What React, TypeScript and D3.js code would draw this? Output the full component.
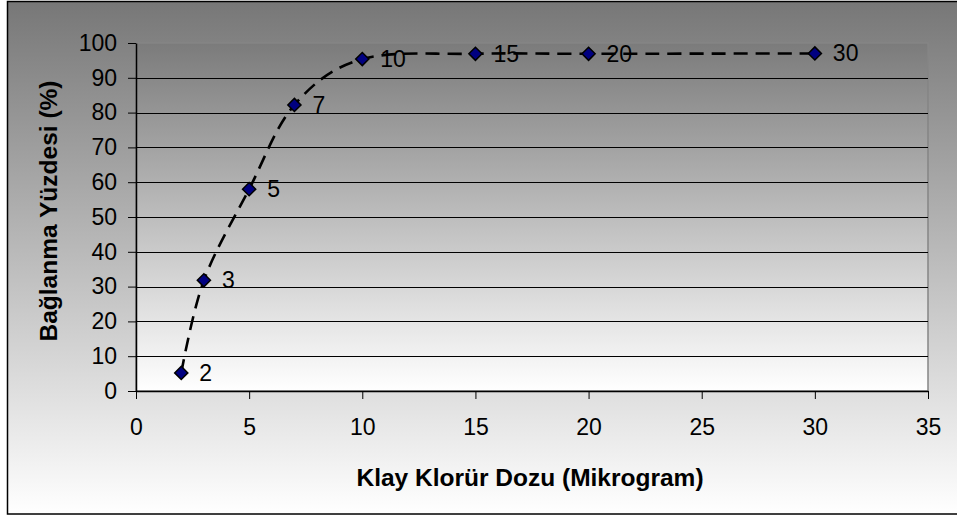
import React, { useEffect, useRef } from 'react';
import * as d3 from 'd3';

const doses = [2, 3, 5, 7, 10, 15, 20, 30];
const binding = [5.2, 31.8, 58, 82.2, 95.4, 96.9, 96.9, 97];
const pointLabels = ['2', '3', '5', '7', '10', '15', '20', '30'];
const xTicks = [0, 5, 10, 15, 20, 25, 30, 35];
const yTicks = [0, 10, 20, 30, 40, 50, 60, 70, 80, 90, 100];

const W = 957;
const H = 517;

export default function App() {
  const svgRef = useRef<SVGSVGElement>(null);

  useEffect(() => {
    if (!svgRef.current) return;
    const svg = d3.select(svgRef.current);
    svg.selectAll('*').remove();

    const font = '"Liberation Sans", Arial, sans-serif';
    const plot = { left: 136, right: 928, top: 43, bottom: 391 };

    const defs = svg.append('defs');
    const outerGrad = defs.append('linearGradient')
      .attr('id', 'outerGrad').attr('x1', 0).attr('y1', 0).attr('x2', 0).attr('y2', 1);
    outerGrad.append('stop').attr('offset', '0%').attr('stop-color', '#777777');
    outerGrad.append('stop').attr('offset', '100%').attr('stop-color', '#ffffff');

    const plotGrad = defs.append('linearGradient')
      .attr('id', 'plotGrad').attr('x1', 0).attr('y1', 0).attr('x2', 0).attr('y2', 1);
    plotGrad.append('stop').attr('offset', '0%').attr('stop-color', '#7b7b7b');
    plotGrad.append('stop').attr('offset', '100%').attr('stop-color', '#ffffff');

    // chart area
    svg.append('rect')
      .attr('x', 7.5).attr('y', 1.5).attr('width', W + 10).attr('height', 512.5)
      .attr('fill', 'url(#outerGrad)').attr('stroke', '#000').attr('stroke-width', 1.5);

    const x = d3.scaleLinear().domain([0, 35]).range([plot.left, plot.right]);
    const y = d3.scaleLinear().domain([0, 100]).range([plot.bottom, plot.top]);

    // plot area
    svg.append('rect')
      .attr('x', plot.left).attr('y', plot.top)
      .attr('width', plot.right - plot.left).attr('height', plot.bottom - plot.top)
      .attr('fill', 'url(#plotGrad)').attr('stroke', '#858585').attr('stroke-width', 1.5);

    // gridlines
    svg.append('g').selectAll('line')
      .data(yTicks.filter(t => t > 0 && t < 100))
      .enter().append('line')
      .attr('x1', plot.left).attr('x2', plot.right)
      .attr('y1', d => Math.round(y(d)) + 0.5).attr('y2', d => Math.round(y(d)) + 0.5)
      .attr('stroke', '#000').attr('stroke-width', 1);

    // y axis
    const yAxis = svg.append('g')
      .attr('transform', `translate(${plot.left},0)`)
      .call(d3.axisLeft(y).tickValues(yTicks).tickSize(8).tickPadding(11).tickSizeOuter(0));
    yAxis.select('.domain').attr('stroke', '#000').attr('stroke-width', 1.5);
    yAxis.selectAll('.tick line').attr('stroke', '#000');
    yAxis.selectAll('.tick text')
      .attr('font-family', font).attr('font-size', 23).attr('fill', '#000');

    // x axis
    const xAxis = svg.append('g')
      .attr('transform', `translate(0,${plot.bottom})`)
      .call(d3.axisBottom(x).tickValues(xTicks).tickSize(8).tickPadding(20).tickSizeOuter(0));
    xAxis.select('.domain').attr('stroke', '#000').attr('stroke-width', 1.5);
    xAxis.selectAll('.tick line').attr('stroke', '#000');
    xAxis.selectAll('.tick text')
      .attr('font-family', font).attr('font-size', 23).attr('fill', '#000');

    const pts: [number, number][] = doses.map((d, i) => [x(d), y(binding[i])]);

    // smoothed dashed line
    const line = d3.line().curve(d3.curveCatmullRom.alpha(0));
    svg.append('path')
      .attr('d', line(pts))
      .attr('fill', 'none').attr('stroke', '#000').attr('stroke-width', 2.6)
      .attr('stroke-dasharray', '14,8');

    // markers
    const symbol = d3.symbol().type(d3.symbolDiamond2).size(110);
    svg.append('g').selectAll('path')
      .data(pts).enter().append('path')
      .attr('d', symbol)
      .attr('transform', d => `translate(${d[0]},${d[1]})`)
      .attr('fill', '#000080').attr('stroke', '#000').attr('stroke-width', 1.5);

    // data labels
    svg.append('g').selectAll('text')
      .data(pts).enter().append('text')
      .attr('x', d => d[0] + 18).attr('y', d => d[1])
      .attr('dy', '0.35em')
      .attr('font-family', font).attr('font-size', 23).attr('fill', '#000')
      .text((d, i) => pointLabels[i]);

    // titles
    svg.append('text')
      .attr('x', 530).attr('y', 486)
      .attr('text-anchor', 'middle')
      .attr('font-family', font).attr('font-weight', 700).attr('font-size', 24.5)
      .text('Klay Klorür Dozu (Mikrogram)');

    svg.append('text')
      .attr('transform', `translate(48,211) rotate(-90)`)
      .attr('text-anchor', 'middle')
      .attr('dy', '0.35em')
      .attr('font-family', font).attr('font-weight', 700).attr('font-size', 24.5)
      .text('Bağlanma Yüzdesi (%)');
  }, []);

  return (
    <svg
      ref={svgRef}
      width={W}
      height={H}
      style={{ position: 'absolute', left: 0, top: 0, display: 'block' }}
    />
  );
}
